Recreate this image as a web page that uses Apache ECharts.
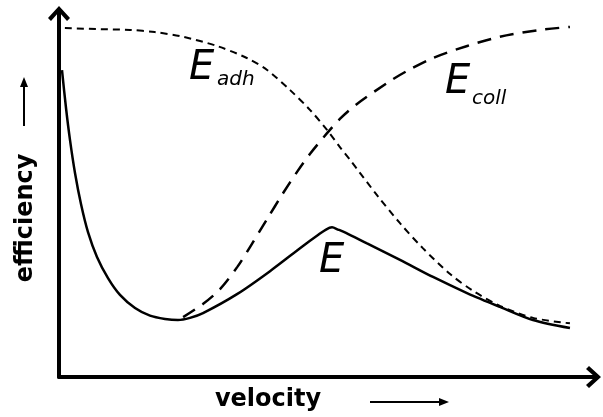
<!DOCTYPE html>
<html>
<head>
<meta charset="utf-8">
<script src="https://cdn.jsdelivr.net/npm/echarts@6/dist/echarts.min.js"></script>
<style>
  html, body { margin: 0; padding: 0; background: #fff; }
  #chart { width: 603px; height: 417px; }
</style>
</head>
<body>
<div id="chart"></div>
<script>
// Axis titles
const xTitle = 'velocity';
const yTitle = 'efficiency';

// Curve names (main letter + subscript)
const adhName = ['E', 'adh'];
const collName = ['E', 'coll'];
const totalName = ['E', ''];

// Adhesion efficiency (short dashes): velocity, efficiency
const adhVelocity = [0.11, 0.77, 1.33, 1.79, 2.32, 2.95, 3.51, 3.89, 4.32, 4.69, 5.01, 5.25, 5.44, 5.94, 6.37, 6.80, 7.31, 7.74, 8.24, 8.86, 9.55];
const adhEff      = [0.956, 0.953, 0.951, 0.945, 0.932, 0.907, 0.874, 0.841, 0.786, 0.732, 0.677, 0.630, 0.595, 0.499, 0.422, 0.353, 0.282, 0.236, 0.195, 0.162, 0.147];

// Collision efficiency (long dashes)
const collVelocity = [2.32, 2.69, 3.01, 3.33, 3.57, 3.89, 4.19, 4.45, 4.69, 5.01, 5.25, 5.57, 6.19, 6.50, 6.99, 7.63, 8.24, 8.99, 9.55];
const collEff      = [0.164, 0.200, 0.241, 0.301, 0.356, 0.433, 0.504, 0.562, 0.611, 0.668, 0.707, 0.748, 0.811, 0.838, 0.874, 0.907, 0.932, 0.951, 0.959];

// Total efficiency (solid)
const totalVelocity = [0.056, 0.131, 0.206, 0.299, 0.411, 0.542, 0.710, 0.916, 1.140, 1.421, 1.701, 1.981, 2.224, 2.449, 2.692, 3.327, 3.944, 4.561, 4.841, 4.991, 5.103, 5.215, 5.364, 5.757, 6.374, 6.991, 7.626, 8.243, 8.860, 9.551];
const totalEff      = [0.841, 0.737, 0.649, 0.559, 0.474, 0.397, 0.329, 0.271, 0.225, 0.189, 0.168, 0.159, 0.156, 0.162, 0.175, 0.227, 0.290, 0.359, 0.389, 0.404, 0.410, 0.404, 0.395, 0.366, 0.321, 0.274, 0.230, 0.192, 0.156, 0.134];

const pairs = (xs, ys) => xs.map((x, i) => [x, ys[i]]);

// Open chevron arrowhead with a short stem so the axis line joins the tip
const chevron = 'path://M11,0 L22,12 L19,15 L11,6 L3,15 L0,12 Z M9.5,4 L12.5,4 L12.5,16 L9.5,16 Z';

const axisCommon = {
  type: 'value',
  axisTick: { show: false },
  axisLabel: { show: false },
  splitLine: { show: false },
  axisLine: {
    show: true,
    onZero: false,
    symbol: ['none', chevron],
    symbolSize: [22, 16],
    lineStyle: { color: '#000', width: 4 }
  }
};

const labelFont = 'bold 24px "DejaVu Sans", sans-serif';
const nameFont = 'oblique 40px "DejaVu Sans", sans-serif';
const subFont = 'oblique 20px "DejaVu Sans", sans-serif';

const chart = echarts.init(document.getElementById('chart'), null, { renderer: 'canvas' });

chart.setOption({
  animation: false,
  backgroundColor: '#fff',
  grid: { left: 59, right: 9, top: 12, bottom: 40 },
  xAxis: Object.assign({}, axisCommon, {
    min: 0, max: 10,
    axisLine: Object.assign({}, axisCommon.axisLine, { symbolOffset: [0, -1] })
  }),
  yAxis: Object.assign({}, axisCommon, {
    min: 0, max: 1,
    axisLine: Object.assign({}, axisCommon.axisLine, { symbolOffset: [0, -2] })
  }),
  series: [
    {
      name: adhName.join(''),
      type: 'line',
      data: pairs(adhVelocity, adhEff),
      showSymbol: false,
      smooth: 0.3,
      lineStyle: { color: '#000', width: 2, type: [7, 5] }
    },
    {
      name: collName.join(''),
      type: 'line',
      data: pairs(collVelocity, collEff),
      showSymbol: false,
      smooth: 0.3,
      lineStyle: { color: '#000', width: 2.5, type: [14, 9] }
    },
    {
      name: totalName.join(''),
      type: 'line',
      data: pairs(totalVelocity, totalEff),
      showSymbol: false,
      smooth: 0.3,
      lineStyle: { color: '#000', width: 2.5 }
    }
  ],
  graphic: [
    // y title with its arrow
    {
      type: 'text', x: 26, y: 218, rotation: Math.PI / 2,
      style: { text: yTitle, font: labelFont, fill: '#000', align: 'center', verticalAlign: 'middle' }
    },
    { type: 'line', shape: { x1: 24, y1: 126, x2: 24, y2: 84 }, style: { stroke: '#000', lineWidth: 2 } },
    { type: 'polygon', shape: { points: [[24, 77], [20, 87], [28, 87]] }, style: { fill: '#000' } },
    // x title with its arrow
    {
      type: 'text', x: 268, y: 400,
      style: { text: xTitle, font: labelFont, fill: '#000', align: 'center', verticalAlign: 'middle' }
    },
    { type: 'line', shape: { x1: 370, y1: 402, x2: 441, y2: 402 }, style: { stroke: '#000', lineWidth: 2 } },
    { type: 'polygon', shape: { points: [[449, 402], [439, 398], [439, 406]] }, style: { fill: '#000' } },
    // curve names
    { type: 'text', x: 189, y: 69, style: { text: adhName[0], font: nameFont, fill: '#000', align: 'left', verticalAlign: 'middle' } },
    { type: 'text', x: 217, y: 80, style: { text: adhName[1], font: subFont, fill: '#000', align: 'left', verticalAlign: 'middle' } },
    { type: 'text', x: 445, y: 83, style: { text: collName[0], font: nameFont, fill: '#000', align: 'left', verticalAlign: 'middle' } },
    { type: 'text', x: 472, y: 99, style: { text: collName[1], font: subFont, fill: '#000', align: 'left', verticalAlign: 'middle' } },
    { type: 'text', x: 319, y: 262, style: { text: totalName[0], font: nameFont, fill: '#000', align: 'left', verticalAlign: 'middle' } }
  ]
});
</script>
</body>
</html>
